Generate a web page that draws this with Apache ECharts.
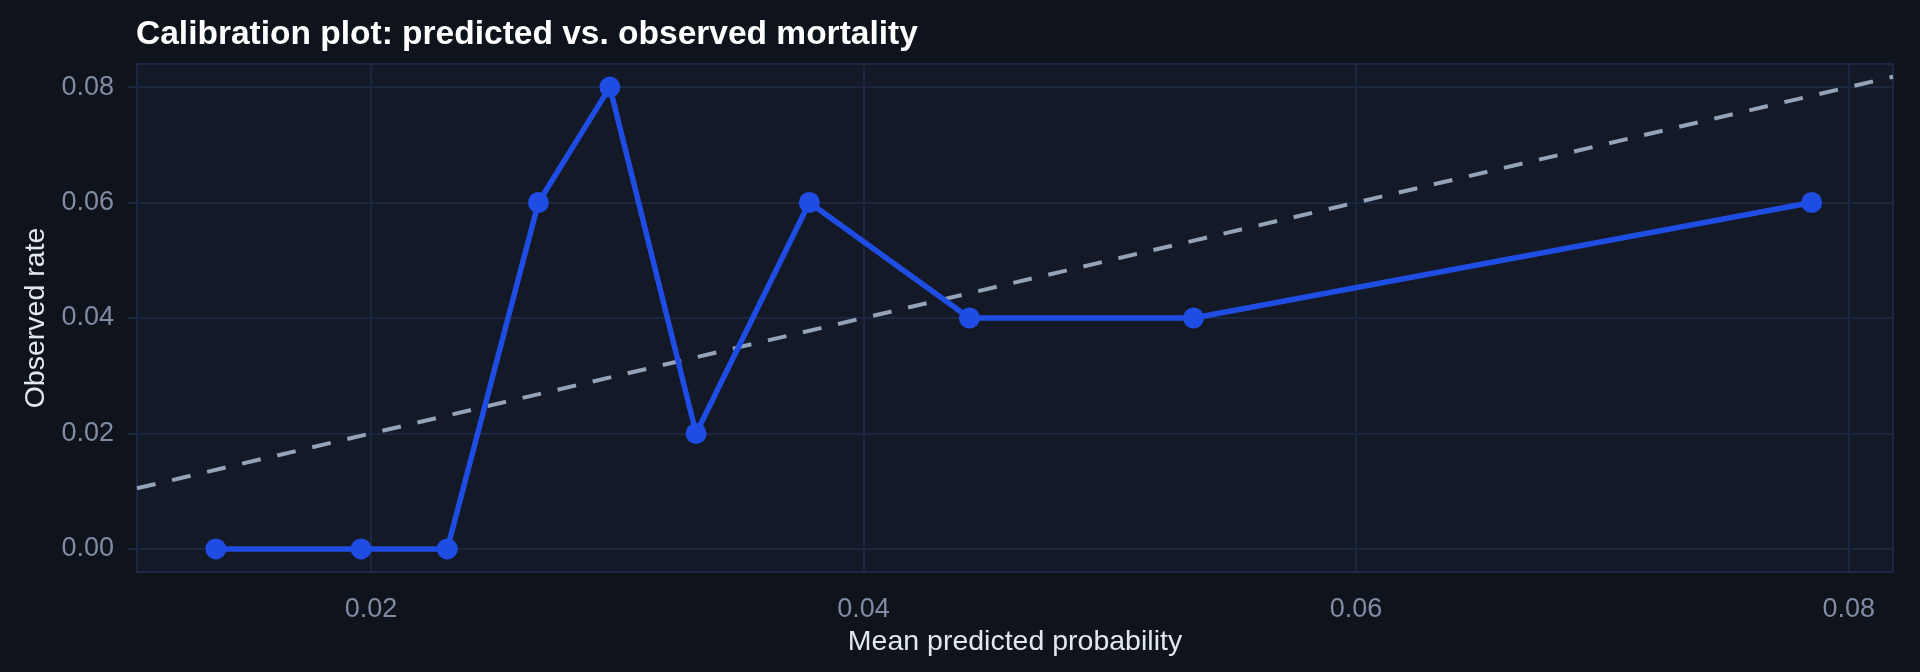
<!DOCTYPE html>
<html lang="en">
<head>
    <meta charset="UTF-8">
    <title>Calibration plot</title>
    <script src="https://cdn.jsdelivr.net/npm/echarts@6/dist/echarts.min.js"></script>
    <style>
        html, body { margin: 0; padding: 0; background: #0f131b; }
        #chart { width: 1920px; height: 672px; }
    </style>
</head>
<body>
<div id="chart"></div>
<script type="text/javascript">
    // mean predicted probability per bin / observed mortality rate per bin
    var predicted = [0.0137, 0.0196, 0.0231, 0.0268, 0.0297, 0.0332, 0.0378, 0.0443, 0.0534, 0.0785];
    var observed  = [0.00, 0.00, 0.00, 0.06, 0.08, 0.02, 0.06, 0.04, 0.04, 0.06];
    // perfect calibration line, ends at the panel edges
    var refLine = [0.0105, 0.0818];
    var xTicks = [0.02, 0.04, 0.06, 0.08];
    var yTicks = [0.00, 0.02, 0.04, 0.06, 0.08];

    var gridColor = '#1b2741';
    var labelColor = '#7f8ca3';
    var font = '"Liberation Sans", Arial, Helvetica, sans-serif';

    var points = [];
    for (var i = 0; i < predicted.length; i++) {
        points.push([predicted[i], observed[i]]);
    }
    var diag = [[refLine[0], refLine[0]], [refLine[1], refLine[1]]];

    var myChart = echarts.init(document.getElementById('chart'));
    var option = {
        backgroundColor: '#0f131b',
        animation: false,
        title: {
            text: 'Calibration plot: predicted vs. observed mortality',
            left: 131,
            top: 13,
            textStyle: {
                color: '#ffffff',
                fontFamily: font,
                fontWeight: 'bold',
                fontSize: 33.5
            }
        },
        grid: {
            left: 137,
            right: 27,
            top: 64,
            bottom: 100,
            show: true,
            backgroundColor: '#131926',
            borderColor: gridColor,
            borderWidth: 2
        },
        xAxis: {
            type: 'value',
            min: 0.0105,
            max: 0.0818,
            name: 'Mean predicted probability',
            nameLocation: 'middle',
            nameGap: 55,
            nameTextStyle: { color: '#e2e8f0', fontFamily: font, fontSize: 28.5 },
            axisLine: { show: false },
            axisTick: {
                show: true,
                length: 9,
                customValues: xTicks,
                lineStyle: { color: gridColor, width: 2 }
            },
            axisLabel: {
                color: labelColor,
                fontFamily: font,
                fontSize: 27,
                margin: 24,
                customValues: xTicks,
                formatter: function (v) { return v.toFixed(2); }
            },
            splitLine: { show: true, lineStyle: { color: gridColor, width: 2 } }
        },
        yAxis: {
            type: 'value',
            min: -0.004,
            max: 0.084,
            name: 'Observed rate',
            nameLocation: 'middle',
            nameGap: 81,
            nameTextStyle: { color: '#e2e8f0', fontFamily: font, fontSize: 28.5 },
            axisLine: { show: false },
            axisTick: {
                show: true,
                length: 9,
                customValues: yTicks,
                lineStyle: { color: gridColor, width: 2 }
            },
            axisLabel: {
                color: labelColor,
                fontFamily: font,
                fontSize: 27,
                margin: 23,
                customValues: yTicks,
                formatter: function (v) { return v.toFixed(2); }
            },
            splitLine: { show: true, lineStyle: { color: gridColor, width: 2 } }
        },
        series: [
            {
                name: 'Perfect calibration',
                type: 'line',
                data: diag,
                symbol: 'none',
                clip: true,
                lineStyle: { color: '#94a3b8', width: 4, type: [19, 17] },
                z: 2
            },
            {
                name: 'Observed',
                type: 'line',
                data: points,
                symbol: 'circle',
                symbolSize: 21,
                itemStyle: { color: '#1f4de3' },
                lineStyle: { color: '#1f4de3', width: 5.5 },
                z: 3
            }
        ]
    };
    myChart.setOption(option);
</script>
</body>
</html>
